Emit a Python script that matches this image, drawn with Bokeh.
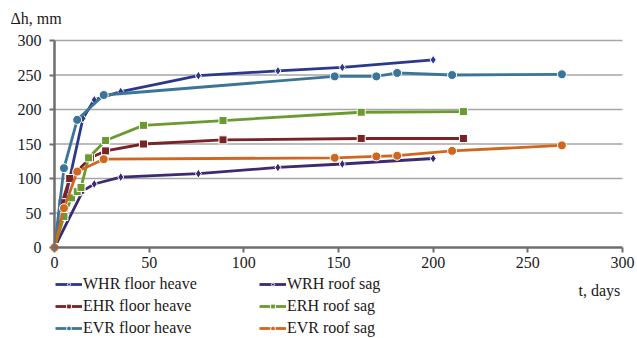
from bokeh.plotting import figure
from bokeh.models import Legend, LegendItem, Label, Range1d, FixedTicker
from bokeh.embed import file_html
from bokeh.resources import INLINE

FONT = "Liberation Serif"

whr_floor_t = [0, 15, 21, 35, 76, 118, 152, 200]
whr_floor_v = [0, 187, 214, 226, 249, 256, 261, 272]

wrh_roof_t = [0, 15, 21, 35, 76, 118, 152, 200]
wrh_roof_v = [0, 82, 92, 102, 107, 116, 121, 129]

ehr_floor_t = [0, 4, 8, 19, 27, 47, 89, 162, 216]
ehr_floor_v = [0, 65, 100, 130, 140, 150, 156, 158, 158]

erh_roof_t = [0, 5, 9, 12, 14, 18, 27, 47, 89, 162, 216]
erh_roof_v = [0, 45, 72, 81, 87, 130, 155, 177, 184, 196, 197]

evr_floor_t = [0, 5, 12, 26, 148, 170, 181, 210, 268]
evr_floor_v = [0, 115, 185, 221, 248, 248, 253, 250, 251]

evr_roof_t = [0, 5, 12, 26, 148, 170, 181, 210, 268]
evr_roof_v = [0, 57, 110, 128, 130, 132, 133, 140, 148]

x_ticks = [0, 50, 100, 150, 200, 250, 300]
y_ticks = [0, 50, 100, 150, 200, 250, 300]

# layout: canvas pixels of the plotting area (frame = whole canvas, axes fixed at 0)
W, H = 637, 338
PX_X0, PX_X1 = 54, 622      # x = 0 and x = 300
PX_Y0, PX_Y1 = 247, 40      # y = 0 and y = 300
sx = (PX_X1 - PX_X0) / (x_ticks[-1] - x_ticks[0])
sy = (PX_Y0 - PX_Y1) / (y_ticks[-1] - y_ticks[0])

def dx(px):
    return x_ticks[0] + (px - PX_X0) / sx

def dy(py):
    return y_ticks[0] + (PX_Y0 - py) / sy

p = figure(width=W, height=H, output_backend="svg", toolbar_location=None,
           x_range=Range1d(dx(0), dx(W)), y_range=Range1d(dy(H), dy(0)),
           min_border=0, min_border_left=0, min_border_right=0,
           min_border_top=0, min_border_bottom=0)
p.outline_line_color = None
p.background_fill_color = "white"
p.border_fill_color = "white"
p.xgrid.visible = False
p.ygrid.visible = False

# horizontal gridlines spanning the axis extent
p.segment(x0=[x_ticks[0]] * (len(y_ticks) - 1), x1=[x_ticks[-1]] * (len(y_ticks) - 1),
          y0=y_ticks[1:], y1=y_ticks[1:], line_color="#a6a6a6", line_width=1.5)

for ax, ticks in ((p.xaxis[0], x_ticks), (p.yaxis[0], y_ticks)):
    ax.fixed_location = 0
    ax.bounds = (0, 300)
    ax.ticker = FixedTicker(ticks=ticks)
    ax.axis_line_color = "#6e6e6e"
    ax.axis_line_width = 2.5
    ax.major_tick_line_color = "#6e6e6e"
    ax.major_tick_line_width = 2
    ax.major_tick_in = 0
    ax.major_tick_out = 5
    ax.minor_tick_line_color = None
    ax.major_label_text_font = FONT
    ax.major_label_text_font_size = "16px"
    ax.major_label_text_color = "#1a1a1a"

p.xaxis[0].major_label_standoff = 4
p.yaxis[0].major_label_standoff = 8

series = [
    ("WHR floor heave", whr_floor_t, whr_floor_v, "#2c388a", "diamond", 9),
    ("WRH roof sag", wrh_roof_t, wrh_roof_v, "#3d2a72", "diamond", 9),
    ("EHR floor heave", ehr_floor_t, ehr_floor_v, "#7a2226", "square", 8),
    ("ERH roof sag", erh_roof_t, erh_roof_v, "#6b9a2e", "square", 8),
    ("EVR floor heave", evr_floor_t, evr_floor_v, "#3b7698", "circle", 9),
    ("EVR roof sag", evr_roof_t, evr_roof_v, "#d0671f", "circle", 9),
]

items = []
for name, t, v, col, mk, sz in series:
    r1 = p.line(t, v, line_color=col, line_width=2.8)
    r2 = p.scatter(t, v, marker=mk, size=sz, fill_color=col, line_color="white", line_width=1)
    items.append(LegendItem(label=name, renderers=[r1, r2]))

def make_legend(its, loc):
    return Legend(items=its, location=loc, orientation="vertical",
                  label_text_font=FONT, label_text_font_size="16px", label_text_color="#1a1a1a",
                  glyph_width=27, glyph_height=12, label_height=16, label_standoff=1,
                  spacing=4, padding=0, margin=0,
                  border_line_color=None, background_fill_alpha=0)

p.add_layout(make_legend([items[0], items[2], items[4]], (55, 1)), "center")
p.add_layout(make_legend([items[1], items[3], items[5]], (259, 1)), "center")

p.add_layout(Label(x=dx(10), y=dy(18), text="Δh, mm", text_font=FONT, text_font_size="16px",
                   text_color="#1a1a1a", text_baseline="middle", text_align="left"))
p.add_layout(Label(x=dx(578), y=dy(290), text="t, days", text_font=FONT, text_font_size="16px",
                   text_color="#1a1a1a", text_baseline="middle", text_align="left"))

open("out.html", "w").write(file_html(p, INLINE))
